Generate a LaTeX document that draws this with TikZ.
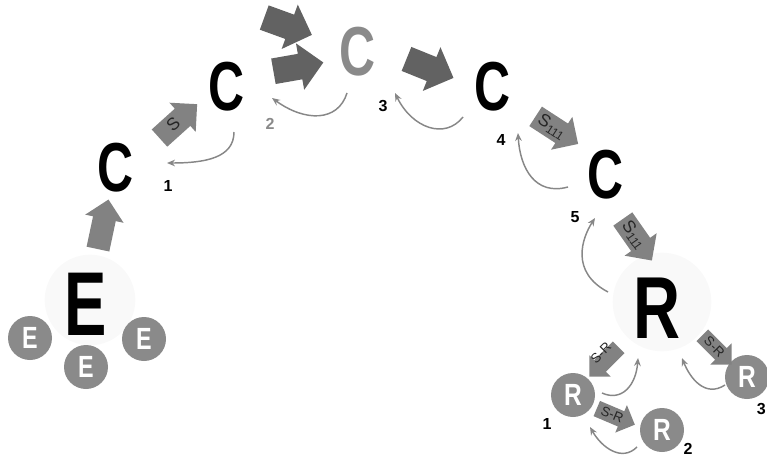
\documentclass[tikz,border=0pt]{standalone}
\usepackage{graphicx}
\usepackage{fontspec}
\setmainfont{Liberation Sans}
\usetikzlibrary{shapes.arrows,arrows.meta}
\definecolor{CircGray}{HTML}{8A8A8A}
\definecolor{ArrGray}{HTML}{828282}
\definecolor{DarkArr}{HTML}{626262}
\definecolor{LineGray}{HTML}{878787}
\newcommand{\Squeeze}[2]{\scalebox{#1}[1]{#2}}

\begin{document}
\begin{tikzpicture}[x=0.75pt,y=-0.75pt]
	\tikzstyle{Halo}	= [circle, fill=gray!5, inner sep=0pt]
	\tikzstyle{Letter}	= [inner sep=0pt, font=\bfseries\fontsize{52}{52}\selectfont]
	\tikzstyle{Small}	= [circle, fill=CircGray, text=white, minimum size=33pt, inner sep=0pt, font=\bfseries\fontsize{23}{23}\selectfont]
	\tikzstyle{Num}		= [inner sep=0pt, font=\bfseries\fontsize{12}{12}\selectfont]
	\tikzstyle{Fat}		= [single arrow, fill=ArrGray, inner xsep=0pt, inner ysep=3pt, text height=9pt, text depth=2pt, minimum height=38pt, single arrow head extend=6pt, text=black!85, font=\fontsize{13}{13}\selectfont]
	\tikzstyle{Big}		= [Fat, fill=DarkArr, inner ysep=5pt, text height=9pt, text depth=0pt, minimum height=38pt, single arrow head extend=8pt]
	\tikzstyle{Mini}	= [Fat, inner ysep=2pt, text height=7pt, text depth=1pt, minimum height=31pt, single arrow head extend=5pt, font=\fontsize{10}{10}\selectfont]
	\tikzstyle{Back}	= [LineGray, line width=1.1pt, -{Stealth[length=6pt,width=5pt]}]

	\useasboundingbox (0,0) rectangle (767,460);

	% halos
	\node (ehalo) at (90,300) [Halo, minimum size=68pt] {};
	\node (rhalo) at (662,302) [Halo, minimum size=74pt] {};

	% enzyme and its subunits
	\node (e) at (86,304) [Letter, font=\bfseries\fontsize{68}{68}\selectfont] {\Squeeze{0.7}{E}};
	\foreach \name/\x/\y in {e1/30/338, e2/86/367, e3/144/339}
		\node (\name) at (\x,\y) [Small] {\Squeeze{0.76}{E}};

	% chain of C
	\foreach \name/\x/\y/\col in {c1/116/168/black, c2/227/87/black, c3/358/52/CircGray, c4/493/87/black, c5/606/175/black}
		\node (\name) at (\x,\y) [Letter, text=\col] {\Squeeze{0.72}{C}};
	\node (n1) at (168,186) [Num] {1};
	\node (n2) at (270,124) [Num, CircGray] {2};
	\node (n3) at (383,106) [Num] {3};
	\node (n4) at (501,140) [Num] {4};
	\node (n5) at (575,217) [Num] {5};

	% receptor and subunits
	\node (r) at (657,308) [Letter, font=\bfseries\fontsize{66}{66}\selectfont] {\Squeeze{0.74}{R}};
	\foreach \name/\x/\y in {r1/573/395, r2/662/430, r3/747/377}
		\node (\name) at (\x,\y) [Small] {\Squeeze{0.8}{R}};
	\node (m1) at (547,424) [Num] {1};
	\node (m2) at (688,449) [Num] {2};
	\node (m3) at (766,409) [Num, anchor=east] {3};

	% forward arrows
	\node (up) at (102,230) [Fat, rotate=78] {};
	\node (s) at (174,125) [Fat, rotate=42] {S};
	\node (ba) at (282,24) [Big, rotate=-20] {};
	\node (bb) at (292,68) [Big, rotate=10] {};
	\node (bc) at (424,66) [Big, rotate=-22] {};
	\node (s1) at (552,127) [Fat, rotate=-33] {S\textsubscript{111}};
	\node (s2) at (634,235) [Fat, rotate=-55] {S\textsubscript{111}};
	\node (sra) at (607,359) [Mini, rotate=-135] {\rotatebox{180}{S-R}};
	\node (srb) at (714,347) [Mini, rotate=-45] {S-R};
	\node (src) at (612,415) [Mini, rotate=-23] {S-R};

	% feedback curves
	\foreach \name/\x/\y in {c2o/234/132, c1i/167/163, c3o/347/93, c2i/272/98, c4o/463/117, c3i/395/93,
		c5o/568/187, c4i/518/133, ro/608/292, c5i/595/218, r1o/602/393, ri1/638/358, r3o/725/385, ri3/682/358, r2o/637/447, r1i/590/427}
		\coordinate (\name) at (\x,\y);
	\draw [Back] (c2o) .. controls (234,158) and (205,163) .. (c1i);
	\draw [Back] (c3o) .. controls (338,122) and (305,122) .. (c2i);
	\draw [Back] (c4o) .. controls (445,140) and (412,128) .. (c3i);
	\draw [Back] (c5o) .. controls (535,196) and (520,168) .. (c4i);
	\draw [Back] (ro) .. controls (570,272) and (582,238) .. (c5i);
	\draw [Back] (r1o) .. controls (622,402) and (636,385) .. (ri1);
	\draw [Back] (r3o) .. controls (705,398) and (690,378) .. (ri3);
	\draw [Back] (r2o) .. controls (622,462) and (602,448) .. (r1i);
\end{tikzpicture}
\end{document}
